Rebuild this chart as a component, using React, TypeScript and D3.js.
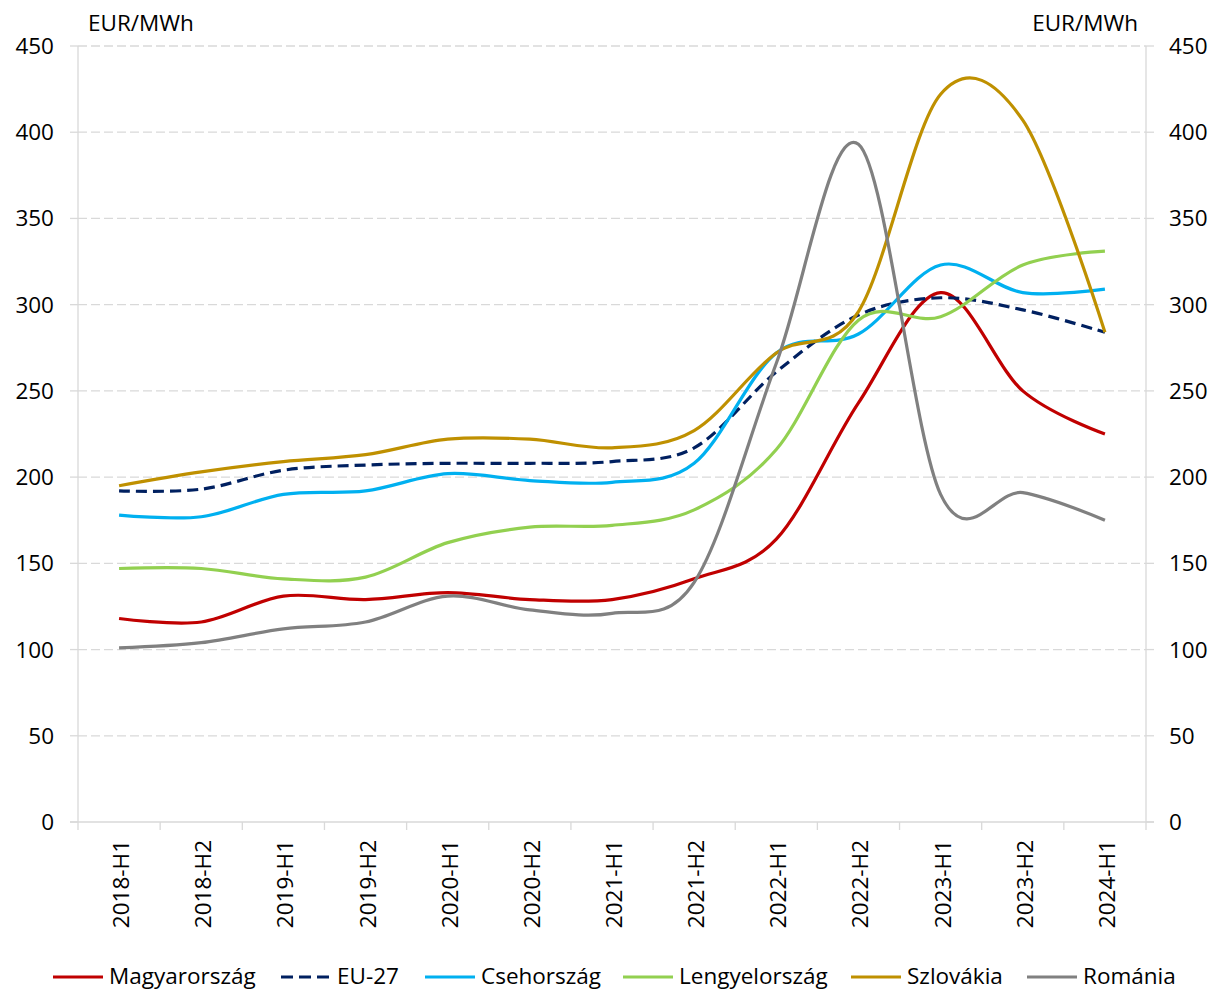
import * as React from 'react';
import * as d3 from 'd3';

const categories = ['2018-H1', '2018-H2', '2019-H1', '2019-H2', '2020-H1', '2020-H2', '2021-H1',
	'2021-H2', '2022-H1', '2022-H2', '2023-H1', '2023-H2', '2024-H1'];

const magyarorszag = [118, 116, 131, 129, 133, 129, 129, 141, 164, 243, 307, 250, 225];
const eu27 = [192, 193, 204, 207, 208, 208, 209, 217, 261, 294, 304, 297, 284];
const csehorszag = [178, 177, 190, 192, 202, 198, 197, 208, 272, 283, 323, 307, 309];
const lengyelorszag = [147, 147, 141, 142, 162, 171, 172, 181, 216, 291, 293, 323, 331];
const szlovakia = [195, 203, 209, 213, 222, 222, 217, 227, 272, 296, 422, 407, 284];
const romania = [101, 104, 112, 116, 131, 123, 121, 139, 266, 393, 190, 191, 175];

const yTicks = [0, 50, 100, 150, 200, 250, 300, 350, 400, 450];
const unitLabel = 'EUR/MWh';

const series = [
	{name: 'Magyarország', values: magyarorszag, color: '#C00000', dash: null},
	{name: 'EU-27', values: eu27, color: '#002060', dash: '11 6'},
	{name: 'Csehország', values: csehorszag, color: '#00B0F0', dash: null},
	{name: 'Lengyelország', values: lengyelorszag, color: '#92D050', dash: null},
	{name: 'Szlovákia', values: szlovakia, color: '#BF9000', dash: null},
	{name: 'Románia', values: romania, color: '#808080', dash: null},
];

// legend item start x (line start), taken from the layout of the original
const legendX = [53, 281, 425, 623, 851, 1027];

const FONT = '"Open Sans", sans-serif';

const draw = (svgEl: SVGSVGElement) => {
	const svg = d3.select(svgEl);
	svg.html('');

	const left = 78, right = 1146, top = 46, bottom = 822;

	const x = d3.scaleBand().domain(categories).range([left, right]);
	const y = d3.scaleLinear().domain([0, 450]).range([bottom, top]);

	// grid
	svg.append('g')
		.selectAll('line')
		.data(yTicks.filter(t => t > 0))
		.enter().append('line')
		.attr('x1', left).attr('x2', right)
		.attr('y1', d => y(d)).attr('y2', d => y(d))
		.attr('stroke', '#d9d9d9')
		.attr('stroke-width', 1.3)
		.attr('stroke-dasharray', '9 4');

	const axisColor = '#d9d9d9';
	const ax = svg.append('g');
	ax.append('line').attr('x1', left).attr('x2', left).attr('y1', top).attr('y2', bottom)
		.attr('stroke', axisColor).attr('stroke-width', 1.3);
	ax.append('line').attr('x1', right).attr('x2', right).attr('y1', top).attr('y2', bottom)
		.attr('stroke', axisColor).attr('stroke-width', 1.3);
	ax.append('line').attr('x1', left - 8).attr('x2', right + 8).attr('y1', bottom).attr('y2', bottom)
		.attr('stroke', axisColor).attr('stroke-width', 1.3);

	// y ticks both sides
	ax.selectAll('.ytl')
		.data(yTicks)
		.enter().append('line')
		.attr('x1', left - 8).attr('x2', left)
		.attr('y1', d => y(d)).attr('y2', d => y(d))
		.attr('stroke', axisColor).attr('stroke-width', 1.3);
	ax.selectAll('.ytr')
		.data(yTicks)
		.enter().append('line')
		.attr('x1', right).attr('x2', right + 8)
		.attr('y1', d => y(d)).attr('y2', d => y(d))
		.attr('stroke', axisColor).attr('stroke-width', 1.3);

	// x ticks at category boundaries
	const bounds = categories.map(c => x(c) as number).concat([right]);
	ax.selectAll('.xt')
		.data(bounds)
		.enter().append('line')
		.attr('x1', d => d).attr('x2', d => d)
		.attr('y1', bottom).attr('y2', bottom + 8)
		.attr('stroke', axisColor).attr('stroke-width', 1.3);

	const txt = svg.append('g')
		.style('font-family', FONT)
		.style('font-size', '22.5px')
		.attr('fill', '#000');

	txt.selectAll('.yl')
		.data(yTicks)
		.enter().append('text')
		.attr('x', 54)
		.attr('y', d => y(d) + 8)
		.attr('text-anchor', 'end')
		.text(d => d);

	txt.selectAll('.yr')
		.data(yTicks)
		.enter().append('text')
		.attr('x', 1169)
		.attr('y', d => y(d) + 8)
		.attr('text-anchor', 'start')
		.text(d => d);

	txt.append('text').attr('x', 88).attr('y', 31).text(unitLabel);
	txt.append('text').attr('x', 1138).attr('y', 31).attr('text-anchor', 'end').text(unitLabel);

	txt.selectAll('.xl')
		.data(categories)
		.enter().append('text')
		.attr('transform', d => 'translate(' + ((x(d) as number) + x.bandwidth() / 2) + ',840) rotate(-90)')
		.attr('dy', 10)
		.attr('text-anchor', 'end')
		.text(d => d);

	// lines
	const line = d3.line<number>()
		.x((d, i) => (x(categories[i]) as number) + x.bandwidth() / 2)
		.y(d => y(d))
		.curve(d3.curveCatmullRom.alpha(0));

	svg.append('g')
		.selectAll('path')
		.data(series)
		.enter().append('path')
		.attr('d', d => line(d.values))
		.attr('fill', 'none')
		.attr('stroke', d => d.color)
		.attr('stroke-width', 3.2)
		.attr('stroke-dasharray', d => d.dash)
		.attr('stroke-linejoin', 'round');

	// legend
	const lg = svg.append('g')
		.selectAll('g')
		.data(series)
		.enter().append('g')
		.attr('transform', (d, i) => 'translate(' + legendX[i] + ',977)');

	lg.append('line')
		.attr('x1', 0).attr('x2', 50)
		.attr('y1', 0).attr('y2', 0)
		.attr('stroke', d => d.color)
		.attr('stroke-width', 3.2)
		.attr('stroke-dasharray', d => d.dash ? '12 6' : null);

	lg.append('text')
		.attr('x', 56)
		.attr('y', 7)
		.style('font-family', FONT)
		.style('font-size', '22.5px')
		.attr('fill', '#000')
		.text(d => d.name);
};

export default function App() {
	const ref = React.useRef<SVGSVGElement>(null);

	React.useEffect(() => {
		if (ref.current) draw(ref.current);
	}, []);

	return (
		<svg
			ref={ref}
			width={1211}
			height={991}
			style={{position: 'absolute', left: 0, top: 0, background: '#fff'}}
		/>
	);
}
